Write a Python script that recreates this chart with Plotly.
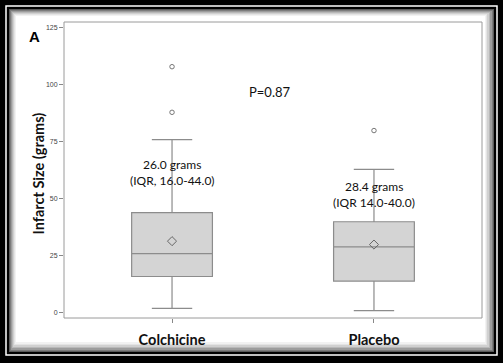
import plotly.graph_objects as go

# ---- data ----
groups = ["Colchicine", "Placebo"]
q1 = [16.0, 14.0]
median = [26.0, 29.0]
q3 = [44.0, 40.0]
lower_whisker = [2.0, 1.0]
upper_whisker = [76.0, 63.0]
means = [31.5, 30.0]
outliers = [[88.0, 108.0], [80.0]]
summary_line1 = ["26.0 grams", "28.4 grams"]
summary_line2 = ["(IQR, 16.0-44.0)", "(IQR 14.0-40.0)"]
summary_y = [[65.0, 58.0], [55.3, 48.3]]
p_text = "P=0.87"
y_ticks = [0, 25, 50, 75, 100, 125]

W, H = 503, 363
L, R, T, B = 64, 21, 22, 45
PW, PH = W - L - R, H - T - B


def fx(px):
    return (px - L) / PW


def fy(py):
    return 1 - (py - T) / PH


fig = go.Figure()

box_line = "#8c8c8c"
for i, g in enumerate(groups):
    fig.add_trace(go.Box(
        x=[i], q1=[q1[i]], median=[median[i]], q3=[q3[i]],
        lowerfence=[lower_whisker[i]], upperfence=[upper_whisker[i]],
        width=0.4, whiskerwidth=0.5,
        fillcolor="#d4d4d4", line=dict(color=box_line, width=1.2),
        showlegend=False, hoverinfo="skip", boxpoints=False,
    ))
    fig.add_trace(go.Scatter(
        x=[i] * len(outliers[i]), y=outliers[i], mode="markers",
        marker=dict(symbol="circle-open", size=4.5, color="#777777", line=dict(width=1)),
        showlegend=False, hoverinfo="skip",
    ))
    fig.add_trace(go.Scatter(
        x=[i], y=[means[i]], mode="markers",
        marker=dict(symbol="diamond-open", size=7, color="#666666", line=dict(width=1)),
        showlegend=False, hoverinfo="skip",
    ))

annotations = []
for i in range(len(groups)):
    annotations.append(dict(x=i, y=summary_y[i][0], xref="x", yref="y", text=summary_line1[i],
                            showarrow=False, font=dict(family="Lato", size=12, color="#111")))
    annotations.append(dict(x=i, y=summary_y[i][1], xref="x", yref="y", text=summary_line2[i],
                            showarrow=False, font=dict(family="Lato", size=12, color="#111")))
annotations.append(dict(x=0.485, y=96.9, xref="x", yref="y", text=p_text, showarrow=False,
                        font=dict(family="Lato", size=13, color="#111")))
annotations.append(dict(x=fx(27), y=fy(174), xref="paper", yref="paper", text="<b>Infarct Size (grams)</b>",
                        textangle=-90, showarrow=False, font=dict(family="Lato", size=14.5, color="#111")))
annotations.append(dict(x=fx(27), y=fy(26), xref="paper", yref="paper", text="<b>A</b>",
                        showarrow=False, font=dict(family="Liberation Sans", size=15, color="#000")))

shapes = []
# outer thin white line
shapes.append(dict(type="rect", xref="paper", yref="paper", x0=fx(6), x1=fx(497), y0=fy(6), y1=fy(355),
                   line=dict(color="white", width=1.5), fillcolor="rgba(0,0,0,0)", layer="below"))
# shadowed panel
panel = [
    (9, 9, 494, 352, "#5a5a5a"),
    (10, 10, 493, 351, "#7c7c7c"),
    (11, 11, 492, 350, "#9c9c9c"),
    (12, 12, 490, 348, "#b8b8b8"),
    (13, 13, 489, 347, "#d0d0d0"),
    (14, 14, 487, 345, "#e4e4e4"),
    (15, 15, 486, 344, "#f2f2f2"),
    (16, 16, 485, 342, "#ffffff"),
]
for x0, y0, x1, y1, c in panel:
    shapes.append(dict(type="rect", xref="paper", yref="paper", x0=fx(x0), x1=fx(x1), y0=fy(y0), y1=fy(y1),
                       line=dict(width=0), fillcolor=c, layer="below"))
# plot border
shapes.append(dict(type="rect", xref="paper", yref="paper", x0=0, x1=1, y0=0, y1=1,
                   line=dict(color="#9a9a9a", width=1), fillcolor="rgba(0,0,0,0)", layer="above"))

fig.update_layout(
    width=W, height=H,
    margin=dict(l=L, r=R, t=T, b=B),
    paper_bgcolor="black", plot_bgcolor="rgba(0,0,0,0)",
    shapes=shapes, annotations=annotations,
    xaxis=dict(range=[-0.535, 1.535], tickvals=[0, 1], ticktext=["<b>" + g + "</b>" for g in groups],
               ticks="outside", ticklen=4, tickcolor="#888", showgrid=False, zeroline=False,
               showline=False, ticklabelstandoff=5,
               tickfont=dict(family="Lato", size=14.5, color="#111"), fixedrange=True),
    yaxis=dict(range=[-2.2, 127.6], tickvals=y_ticks, ticks="outside", ticklen=4, tickcolor="#888",
               showgrid=False, zeroline=False, showline=False,
               tickfont=dict(family="Liberation Sans", size=7, color="#444"), fixedrange=True),
)

fig.write_html("out.html", config={"displayModeBar": False},
               post_script="document.body.style.margin='0';document.body.style.overflow='hidden';")
